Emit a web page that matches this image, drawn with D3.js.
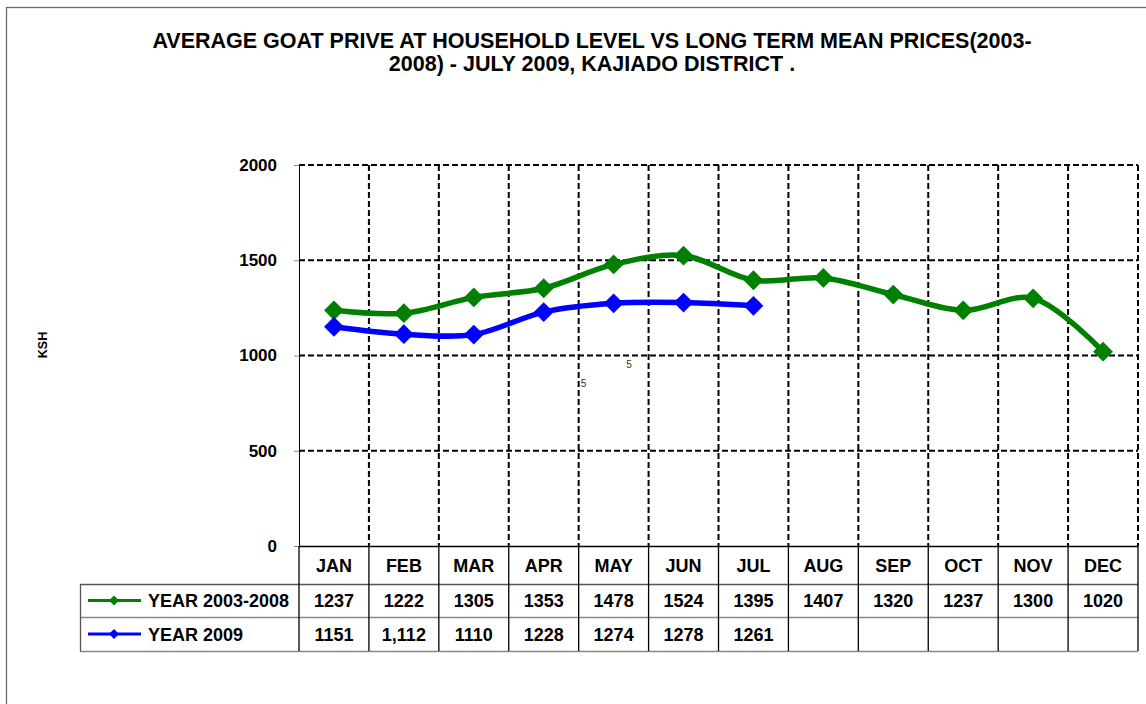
<!DOCTYPE html>
<html>
<head>
<meta charset="utf-8">
<script src="https://cdn.jsdelivr.net/npm/d3@7"></script>
<style>
  html, body { margin: 0; padding: 0; background: #fff; }
  svg { display: block; font-family: "Liberation Sans", Arial, sans-serif; }
</style>
</head>
<body>
<svg id="chart" width="1146" height="704"></svg>
<script>
// Monthly goat prices, Kajiado District (KSH)
const months = ["JAN","FEB","MAR","APR","MAY","JUN","JUL","AUG","SEP","OCT","NOV","DEC"];
const longTermMean = [1237,1222,1305,1353,1478,1524,1395,1407,1320,1237,1300,1020];
const year2009 = [1151,1112,1110,1228,1274,1278,1261];
const year2009Labels = ["1151","1,112","1110","1228","1274","1278","1261"];
const seriesNames = ["YEAR 2003-2008","YEAR 2009"];
const seriesColors = ["#008000","#0000ff"];
const yTicks = [0,500,1000,1500,2000];
// small stray labels inside the plot: [month position, value, text]
const strayLabels = [[3.53, 836, "5"], [4.18, 934, "5"]];

(function () {
const svg = d3.select("#chart");

// outer frame
svg.append("rect").attr("x",6.5).attr("y",7.5).attr("width",1160).attr("height",720)
  .attr("fill","none").attr("stroke","#6b6b6b").attr("stroke-width",1.3);

// title
const title = svg.append("text").attr("text-anchor","middle")
  .attr("font-weight","bold").attr("font-size",21.5).attr("fill","#000");
title.append("tspan").attr("x",592).attr("y",48)
  .text("AVERAGE GOAT PRIVE AT HOUSEHOLD LEVEL VS LONG TERM MEAN PRICES(2003-");
title.append("tspan").attr("x",592).attr("y",71)
  .text("2008) - JULY 2009, KAJIADO DISTRICT .");

// plot geometry
const pLeft = 299, pRight = 1138, pTop = 165, pBottom = 546;
const x = d3.scaleBand().domain(months).range([pLeft, pRight]).padding(0);
const y = d3.scaleLinear().domain([0, 2000]).range([pBottom, pTop]);
const xc = m => x(m) + x.bandwidth() / 2;
const xPos = i => pLeft + (i + 0.5) * x.bandwidth();

// dashed grid
const grid = svg.append("g");
grid.selectAll("line.h").data(yTicks.filter(d => d > 0)).join("line")
  .attr("x1", pLeft).attr("x2", pRight).attr("y1", d => y(d)).attr("y2", d => y(d))
  .attr("stroke","#000").attr("stroke-width",2).attr("stroke-dasharray","6,3");
grid.selectAll("line.v").data(months).join("line")
  .attr("x1", d => x(d) + x.bandwidth()).attr("x2", d => x(d) + x.bandwidth())
  .attr("y1", pTop).attr("y2", pBottom)
  .attr("stroke","#000").attr("stroke-width",2).attr("stroke-dasharray","6,3");

// y axis
const yAxis = d3.axisLeft(y).tickValues(yTicks).tickSize(5).tickPadding(17).tickFormat(d3.format("d"));
const ya = svg.append("g").attr("transform",`translate(${pLeft},0)`).call(yAxis);
ya.select(".domain").remove();
ya.selectAll(".tick line").attr("stroke","#888");
ya.selectAll(".tick text").attr("font-size",17).attr("font-weight","bold")
  .attr("font-family","Liberation Sans, Arial, sans-serif").attr("fill","#000");
svg.append("line").attr("x1",pLeft+0.5).attr("x2",pLeft+0.5).attr("y1",pTop).attr("y2",pBottom)
  .attr("stroke","#000").attr("stroke-width",1);

// y axis title
svg.append("text").attr("transform","translate(47,345) rotate(-90)")
  .attr("text-anchor","middle").attr("font-size",12.5).attr("font-weight","bold").text("KSH");

// stray labels
svg.selectAll("text.stray").data(strayLabels).join("text")
  .attr("x", d => xPos(d[0])).attr("y", d => y(d[1]))
  .attr("font-size",10).attr("fill","#333").text(d => d[2]);

// lines and markers
const line = d3.line().x((d,i) => xPos(i)).y(d => y(d)).curve(d3.curveCatmullRom.alpha(0.5));
const diamond = d3.symbol().type(d3.symbolDiamond2).size(250);
[longTermMean, year2009].forEach((vals, k) => {
  svg.append("path").datum(vals).attr("d", line).attr("fill","none")
    .attr("stroke", seriesColors[k]).attr("stroke-width",5.5).attr("stroke-linejoin","round");
  svg.append("g").selectAll("path").data(vals).join("path")
    .attr("transform",(d,i) => `translate(${xPos(i)},${y(d)})`)
    .attr("d", diamond).attr("fill", seriesColors[k]);
});

// data table
const tLeft = 80, rowY = [546, 584, 617, 651];
const tbl = svg.append("g");
// header labels
tbl.selectAll("text.m").data(months).join("text")
  .attr("x", d => xc(d)).attr("y", (rowY[0]+rowY[1])/2 + 6.5)
  .attr("text-anchor","middle").attr("font-size",18).attr("font-weight","bold").text(d => d);
// value rows
const rows = [longTermMean.map(String), year2009Labels];
rows.forEach((labels, r) => {
  tbl.append("g").selectAll("text").data(labels).join("text")
    .attr("x", (d,i) => xPos(i)).attr("y", (rowY[r+1]+rowY[r+2])/2 + 6.5)
    .attr("text-anchor","middle").attr("font-size",18).attr("font-weight","bold").text(d => d);
  const ly = (rowY[r+1]+rowY[r+2])/2;
  tbl.append("line").attr("x1",88).attr("x2",141).attr("y1",ly).attr("y2",ly)
    .attr("stroke",seriesColors[r]).attr("stroke-width",3);
  tbl.append("path").attr("transform",`translate(114,${ly})`)
    .attr("d", d3.symbol().type(d3.symbolDiamond2).size(64)).attr("fill",seriesColors[r]);
  tbl.append("text").attr("x",148).attr("y",ly+6.5).attr("font-size",18).attr("font-weight","bold")
    .text(seriesNames[r]);
});
// table rules
tbl.append("line").attr("x1",pLeft).attr("x2",pRight).attr("y1",rowY[0]+0.5).attr("y2",rowY[0]+0.5)
  .attr("stroke","#000").attr("stroke-width",1.3);
[1,2,3].forEach(r => {
  tbl.append("line").attr("x1",tLeft).attr("x2",pRight).attr("y1",rowY[r]+0.5).attr("y2",rowY[r]+0.5)
    .attr("stroke", r === 1 ? "#555" : "#888").attr("stroke-width",1.3);
});
tbl.append("line").attr("x1",tLeft+0.5).attr("x2",tLeft+0.5).attr("y1",rowY[1]).attr("y2",rowY[3])
  .attr("stroke","#555").attr("stroke-width",1.3);
tbl.append("g").selectAll("line").data([pLeft].concat(months.map(m => x(m) + x.bandwidth()))).join("line")
  .attr("x1", d => d).attr("x2", d => d).attr("y1", rowY[0]).attr("y2", rowY[3])
  .attr("stroke","#000").attr("stroke-width",1.3);
})();
</script>
</body>
</html>
